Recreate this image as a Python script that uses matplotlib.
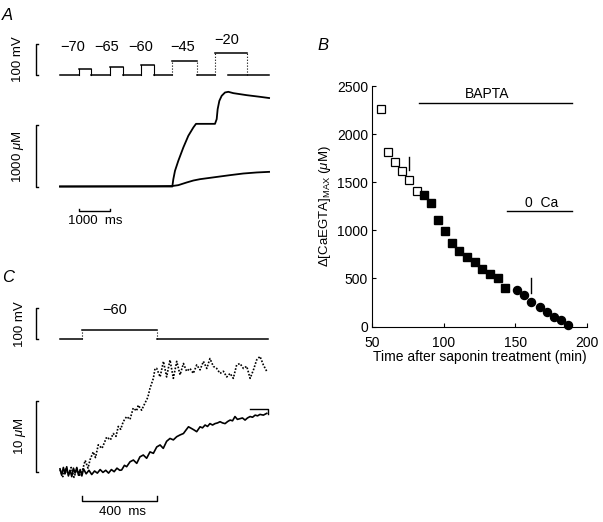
import numpy as np
import matplotlib
matplotlib.use('Agg')
from matplotlib import pyplot as plt

plt.rcParams['font.family'] = ['Liberation Sans', 'DejaVu Sans']
plt.rcParams['mathtext.fontset'] = 'custom'
plt.rcParams['mathtext.rm'] = 'Liberation Sans'
plt.rcParams['mathtext.it'] = 'Liberation Sans:italic'
plt.rcParams['mathtext.bf'] = 'Liberation Sans:bold'

# ---------------- panel A: voltage protocol (ms, mV) ----------------
a_hold = -90
a_step_mv = [-70, -65, -60, -45, -20]
a_step_on = [600, 1600, 2600, 3590, 4950]
a_step_off = [1000, 2000, 3000, 4370, 5965]
a_end = 6680
a_label_t = [400, 1490, 2590, 3920, 5330]

# panel A: calcium transients (ms, uM)
a_t_big = [0, 3589, 3621, 3674, 3780, 3940, 4100, 4260, 4345, 4952, 5006, 5037,
           5091, 5165, 5272, 5378, 5538, 5964, 6390, 6680]
a_ca_big = [0, 0, 120, 257, 421, 639, 831, 967, 1027, 1027, 1104, 1268,
            1404, 1486, 1541, 1552, 1530, 1497, 1470, 1450]
a_t_small = [0, 3000, 3589, 3780, 4047, 4260, 4473, 4793, 5112, 5432, 5858, 6284, 6680]
a_ca_small = [0, 5, 8, 22, 66, 98, 120, 142, 164, 186, 213, 230, 240]

# ---------------- panel B ----------------
open_t = [56, 61, 66, 71, 76, 81]
open_ca = [2259, 1815, 1714, 1620, 1524, 1406]
fill_t = [86, 91, 96, 101, 106, 111, 116, 122, 127, 132, 138, 143]
fill_ca = [1371, 1281, 1111, 990, 865, 782, 723, 668, 598, 549, 501, 404]
circ_t = [151, 156, 161, 167, 172, 177, 182, 187]
circ_ca = [380, 328, 252, 203, 148, 99, 68, 16]
bapta_span = [83, 190]
bapta_level = 2321
zeroca_span = [144, 190]
zeroca_level = 1204

# ---------------- panel C ----------------
c_hold = -90
c_level = -60
c_step_on = 120
c_step_off = 520
c_end = 1116

c_t_fast = [0, 15, 30, 45, 60, 75, 90, 105, 120, 135, 150, 161, 178, 190, 205, 225,
            250, 270, 285, 300, 312, 325, 339, 357, 375, 392, 410, 419, 437, 455,
            470, 482, 500, 509, 518, 536, 554, 571, 589, 607, 625, 643, 661, 678,
            696, 714, 732, 750, 768, 786, 803, 821, 839, 857, 875, 893, 911, 928,
            946, 964, 982, 1000, 1018, 1036, 1053, 1071, 1089, 1107]
c_ca_fast = [0.3, -0.7, 0.5, -0.4, 0.6, -0.8, 0.4, -0.5, 0.2, 1.6, 0.5, 1.7, 2.8, 2.0,
             3.8, 3.3, 4.9, 4.5, 5.4, 5.0, 6.4, 6.0, 7.1, 7.8, 7.4, 9.0, 8.6, 9.4,
             8.7, 9.7, 10.5, 11.8, 13.2, 14.6, 14.6, 13.4, 15.6, 13.4, 15.8, 13.2,
             15.6, 13.7, 15.3, 14.2, 14.6, 13.9, 15.1, 14.4, 15.6, 14.6, 16.0, 14.9,
             14.6, 13.9, 14.2, 13.4, 13.9, 13.2, 15.1, 15.3, 14.6, 14.9, 13.2, 14.4,
             15.8, 16.3, 15.1, 14.2]

c_t_slow = [0, 9, 18, 27, 36, 45, 54, 63, 72, 81, 90, 99, 108, 117, 126, 140, 155,
            170, 185, 200, 215, 230, 245, 260, 275, 290, 305, 320, 330, 345, 357,
            375, 393, 411, 428, 446, 464, 482, 500, 518, 536, 553, 571, 589, 607,
            625, 643, 661, 675, 688, 705, 718, 732, 750, 763, 777, 790, 803, 817,
            830, 844, 857, 870, 884, 898, 911, 924, 937, 950, 964, 977, 991, 1004,
            1018, 1031, 1045, 1058, 1071, 1089, 1107]
c_ca_slow = [0.4, -0.5, 0.6, -0.3, 0.7, -0.6, 0.2, -0.7, 0.5, -0.2, 0.6, -0.5, 0.3,
             -0.6, 0.4, -0.3, 0.2, -0.4, 0.1, -0.2, 0.3, -0.1, 0.2, -0.2, 0.3, 0.0,
             0.5, 0.2, 0.24, 0.9, 0.71, 1.4, 1.65, 1.18, 2.1, 2.36, 1.9, 2.8, 2.6,
             3.5, 3.78, 3.3, 4.3, 4.7, 4.5, 4.95, 5.2, 5.4, 5.9, 6.35, 6.1, 5.9,
             5.66, 6.35, 6.2, 6.6, 6.4, 6.8, 6.6, 6.8, 6.9, 7.07, 6.9, 6.8, 7.1,
             7.3, 7.2, 7.8, 7.4, 7.5, 7.6, 7.3, 7.6, 7.8, 7.7, 8.0, 7.9, 8.1, 8.0,
             8.25]
c_end_mark_t = [1018, 1116, 1116]
c_end_mark_ca = [8.9, 8.9, 8.2]

W, H = 603, 522
fig = plt.figure(figsize=(W / 100, H / 100), dpi=100)
LW = 1.1


def trace_axes(box, x_px0, x_val0, x_scale, y_px0, y_val0, y_scale):
    # box = (left, top, right, bottom) in pixels, scale = data units per pixel
    l, t, r, b = box
    ax = fig.add_axes([l / W, 1 - b / H, (r - l) / W, (b - t) / H])
    ax.set_xlim(x_val0 + (l - x_px0) * x_scale, x_val0 + (r - x_px0) * x_scale)
    ax.set_ylim(y_val0 - (b - y_px0) * y_scale, y_val0 - (t - y_px0) * y_scale)
    ax.axis('off')
    return ax


def ftext(x, y, s, **kw):
    fig.text(x / W, 1 - y / H, s, **kw)


def vbar(ax, x, y0, y1, tick):
    ax.plot([x + tick, x, x, x + tick], [y0, y0, y1, y1], color='k', lw=1, clip_on=False)


def hbar(ax, x0, x1, y, tick):
    ax.plot([x0, x0, x1, x1], [y + tick, y, y, y + tick], color='k', lw=1, clip_on=False)


# ---- A voltage ----
ax_av = trace_axes((0, 28, 300, 84), 60, 0, 31.95, 74.7, a_hold, 3.257)
prev = 0
for i in range(len(a_step_mv)):
    ax_av.plot([prev, a_step_on[i]], [a_hold, a_hold], color='k', lw=LW)
    ax_av.plot([a_step_on[i], a_step_off[i]], [a_step_mv[i]] * 2, color='k', lw=LW)
    ls = '-' if i < 3 else ':'
    for tt in (a_step_on[i], a_step_off[i]):
        ax_av.plot([tt, tt], [a_hold, a_step_mv[i]], color='k', lw=0.8, ls=ls)
    # labels sit at a common height, the last one a bit higher
    ax_av.text(a_label_t[i], 23 if i == 4 else 0,
               '\u2212%d' % abs(a_step_mv[i]), ha='center', va='center', fontsize=10.5)
    prev = a_step_off[i] if i < 4 else 5380
ax_av.plot([prev, a_end], [a_hold, a_hold], color='k', lw=LW)
vbar(ax_av, -767, a_hold, a_hold + 100, 80)

# ---- A calcium ----
ax_ac = trace_axes((0, 84, 300, 235), 60, 0, 31.95, 186.5, 0, 16.39)
ax_ac.plot(a_t_big, a_ca_big, color='k', lw=1.3)
ax_ac.plot(a_t_small, a_ca_small, color='k', lw=1.3)
vbar(ax_ac, -767, 0, 1000, 80)
hbar(ax_ac, 600, 1600, -402, 33)

ftext(18, 58.7, '100 mV', rotation=90, ha='center', va='center', fontsize=9.5)
ftext(18, 157, '1000 $\\mu$M', rotation=90, ha='center', va='center', fontsize=9.5)
ftext(95, 221, '1000  ms', ha='center', va='center', fontsize=9.5)

# ---- C voltage ----
ax_cv = trace_axes((0, 295, 300, 350), 60, 0, 5.355, 339.3, c_hold, 3.226)
ax_cv.plot([0, c_step_on], [c_hold, c_hold], color='k', lw=LW)
ax_cv.plot([c_step_on, c_step_off], [c_level, c_level], color='k', lw=LW)
ax_cv.plot([c_step_off, c_end], [c_hold, c_hold], color='k', lw=LW)
for tt in (c_step_on, c_step_off):
    ax_cv.plot([tt, tt], [c_hold, c_level], color='k', lw=0.8, ls=':')
vbar(ax_cv, -128.5, c_hold, c_hold + 100, 13)

# ---- C calcium ----
ax_cc = trace_axes((0, 350, 300, 522), 60, 0, 5.355, 471.7, 0, 0.1414)
ax_cc.plot(c_t_fast, c_ca_fast, color='k', lw=1.2, ls=(0, (1, 1)))
ax_cc.plot(c_t_slow, c_ca_slow, color='k', lw=1.2)
ax_cc.plot(c_end_mark_t, c_end_mark_ca, color='k', lw=1)
vbar(ax_cc, -128.5, 0, 10, 13)
hbar(ax_cc, c_step_on, c_step_off, -4.1, 0.71)

ftext(115, 310, '\u221260', ha='center', va='center', fontsize=10.5)
ftext(20, 323.8, '100 mV', rotation=90, ha='center', va='center', fontsize=9.5)
ftext(20, 436.3, '10 $\\mu$M', rotation=90, ha='center', va='center', fontsize=9.5)
ftext(122.8, 511.7, '400  ms', ha='center', va='center', fontsize=9.5)

# ---- B ----
bl, br, bt, bb = 372.3, 586.7, 86.1, 326.5
ax_b = fig.add_axes([bl / W, 1 - bb / H, (br - bl) / W, (bb - bt) / H])
ax_b.plot(open_t, open_ca, 's', ms=5.5, mfc='white', mec='k', mew=0.9, clip_on=False)
ax_b.plot(fill_t, fill_ca, 's', ms=5.5, color='k', clip_on=False)
ax_b.plot(circ_t, circ_ca, 'o', ms=5.8, color='k', clip_on=False)
ax_b.plot(bapta_span, [bapta_level] * 2, color='k', lw=1)
ax_b.text(np.mean(bapta_span) - 6, bapta_level + 52, 'BAPTA', ha='center', va='baseline', fontsize=10)
ax_b.plot(zeroca_span, [zeroca_level] * 2, color='k', lw=1)
ax_b.text(np.mean(zeroca_span) + 1.5, zeroca_level + 42, '0  Ca', ha='center', va='baseline', fontsize=10)
ax_b.plot([76, 76], [1628, 1766], color='k', lw=1)
ax_b.plot([161, 161], [346, 502], color='k', lw=1)
ax_b.set_xlim(50, 200)
ax_b.set_ylim(0, 2500)
ax_b.set_xticks([50, 100, 150, 200])
ax_b.set_yticks([0, 500, 1000, 1500, 2000, 2500])
ax_b.spines['top'].set_visible(False)
ax_b.spines['right'].set_visible(False)
ax_b.tick_params(direction='in', length=3, labelsize=10)
ax_b.tick_params(axis='x', pad=7)
ax_b.tick_params(axis='y', pad=3)
ax_b.set_xlabel('Time after saponin treatment (min)', fontsize=10, labelpad=0)
ax_b.set_ylabel('$\\Delta$[CaEGTA]$_{\\rm MAX}$ ($\\mu$M)', fontsize=9.5, labelpad=3)

ftext(7.5, 15, 'A', ha='center', va='center', fontsize=12, style='italic')
ftext(323, 45, 'B', ha='center', va='center', fontsize=12, style='italic')
ftext(8, 277, 'C', ha='center', va='center', fontsize=12, style='italic')

fig.savefig('out.png', dpi=100)
